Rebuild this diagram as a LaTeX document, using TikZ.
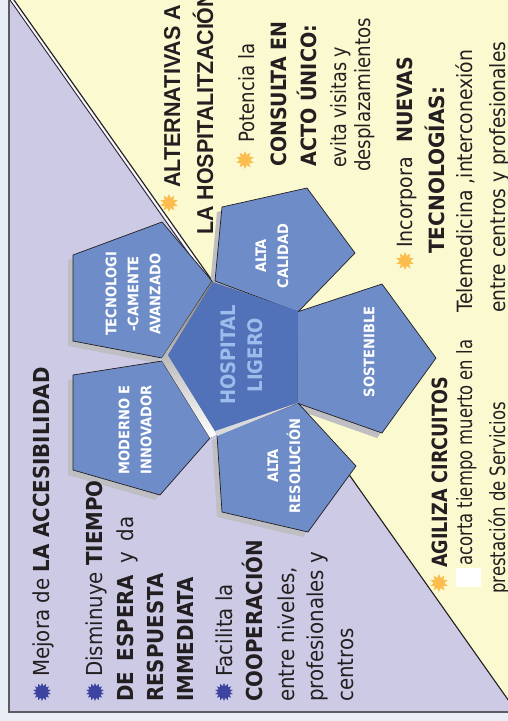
\documentclass[tikz,border=0pt]{standalone}
\usepackage{fontspec}
\usepackage{graphicx}
\setmainfont{DejaVu Sans Condensed}[BoldFont={DejaVu Sans Condensed Bold}]
\newfontfamily\headfont{Liberation Sans}
\usetikzlibrary{shapes.geometric}

% set a line of text to a given length along its baseline
\newcommand\fitline[2]{\resizebox{#1}{\height}{#2}}

\definecolor{bgout}{HTML}{E8EDF6}
\definecolor{lav}{HTML}{CDCAE6}
\definecolor{cream}{HTML}{FBF9CF}
\definecolor{petalblue}{HTML}{6E8DC8}
\definecolor{hubblue}{HTML}{5171B9}
\definecolor{hubtext}{HTML}{9CBDEB}
\definecolor{shade}{HTML}{BEBEC3}
\definecolor{shadelight}{HTML}{DADADD}
\definecolor{framegray}{HTML}{5B5B60}
\definecolor{navystar}{HTML}{3D44A0}
\definecolor{sunstar}{HTML}{FCBD4E}
\definecolor{ink}{HTML}{231F20}

\tikzset{
  petal/.style={fill=petalblue, draw=ink, line width=0.7pt, line join=miter},
  petalshadow/.style={fill=shade},
  petaltext/.style={text=white, font=\fontsize{14.5}{22}\selectfont\bfseries,
    align=center, rotate=90, inner sep=0pt},
  hubtxt/.style={text=hubtext, font=\fontsize{20}{27}\selectfont\bfseries,
    align=center, rotate=90, inner sep=0pt},
  lline/.style={rotate=90, anchor=base west, inner sep=0pt, text=ink,
    font=\fontsize{22}{26}\selectfont},
  rline/.style={rotate=90, anchor=base west, inner sep=0pt, text=ink,
    font=\fontsize{21}{26}\selectfont},
  headline/.style={rotate=90, anchor=base west, inner sep=0pt, text=ink,
    font=\fontsize{23}{26}\headfont\bfseries},
  navybullet/.style={star, star points=14, star point ratio=1.5, fill=navystar,
    minimum size=18pt, inner sep=0pt},
  sunbullet/.style={star, star points=10, star point ratio=1.7, fill=sunstar,
    minimum size=18pt, inner sep=0pt},
}

\begin{document}
\begin{tikzpicture}[x=1pt,y=-1pt]
\useasboundingbox (0,0) rectangle (508,721);
\clip (0,0) rectangle (508,721);

% page background and the two halves of the panel
\fill[bgout] (0,0) rectangle (508,721);
\fill[lav] (9,-5) rectangle (515,712);
\coordinate (d1) at (10.5,-5);
\coordinate (d2) at (515,709.6);
\fill[cream] (d1) -- (d2) -- (515,-5) -- cycle;

% dividing diagonal (doubled in its upper part)
\draw[ink, line width=1.1pt] (d1) -- (d2);
\draw[white, line width=1.4pt] (8.9,-3.9) -- (211,282);
\draw[ink, line width=0.8pt] (7.8,-3.1) -- (210,284);

% panel frame
\draw[framegray, line width=1.2pt] (9,-5) -- (9,712) -- (515,712);

% drop shadows of the outer petals
\begin{scope}[shift={(-5,5)}]
  \fill[petalshadow] (73,255) -- (162,222) -- (212,281) -- (162,358) -- (73,341) -- cycle;
  \fill[petalshadow] (73,375) -- (162,361) -- (210,438) -- (160,495) -- (73,470) -- cycle;
  \fill[petalshadow] (217,435) -- (298,403) -- (356,466) -- (308,532) -- (222,512) -- cycle;
  \fill[petalshadow] (297,312) -- (382,284) -- (436,358) -- (382,433) -- (297,403) -- cycle;
  \fill[petalshadow] (222,207) -- (307,188) -- (355,253) -- (298,312) -- (215,281) -- cycle;
\end{scope}

% outer petals
\draw[petal] (73,255) -- (162,222) -- (212,281) -- (162,358) -- (73,341) -- cycle;
\draw[petal] (73,375) -- (162,361) -- (210,438) -- (160,495) -- (73,470) -- cycle;
\draw[petal] (217,435) -- (298,403) -- (356,466) -- (308,532) -- (222,512) -- cycle;
\draw[petal] (297,312) -- (382,284) -- (436,358) -- (382,433) -- (297,403) -- cycle;
\draw[petal] (222,207) -- (307,188) -- (355,253) -- (298,312) -- (215,281) -- cycle;

% bevel between the hub and the petals
\fill[shade] (212,281) -- (162,358) -- (162,361) -- (210,438) -- (217,435)
  -- (215,431) -- (168,355) -- (213,282) -- cycle;
\fill[shadelight] (215,430) -- (217,436) -- (298,403) -- (297,402) -- cycle;

% central hub
\fill[hubblue] (213,282) -- (298,311) -- (297,403) -- (215,431) -- (168,355) -- cycle;

% petal labels
\node[petaltext] (tecno) at (133,294) {TECNOLOGI\\-CAMENTE\\AVANZADO};
\node[petaltext] (moderno) at (135,430) {MODERNO E\\INNOVADOR};
\node[petaltext] (resol) at (284,466) {ALTA\\RESOLUCIÓN};
\node[petaltext] (sost) at (369,352) {SOSTENIBLE};
\node[petaltext] (calidad) at (272,256) {ALTA\\CALIDAD};
\node[hubtxt] (hub) at (242,355) {HOSPITAL\\LIGERO};

% left list
\node[navybullet] (b1) at (42,692) {};
\node[lline] (l1) at (49,677) {Mejora de \textbf{LA ACCESIBILIDAD}};
\node[navybullet] (b2) at (95,692) {};
\node[lline] (l2) at (102,677) {Disminuye \textbf{TIEMPO}};
\node[lline] (l3) at (133,702) {\makebox[185pt][s]{\textbf{DE} \textbf{ESPERA} y da}};
\node[lline] (l4) at (163,702) {\textbf{RESPUESTA}};
\node[lline] (l5) at (193,702) {\textbf{IMMEDIATA}};
\node[navybullet] (b3) at (224,692) {};
\node[lline] (l6) at (232,677) {Facilita la};
\node[lline] (l7) at (262,702) {\textbf{COOPERACIÓN}};
\node[lline] (l8) at (294,702) {entre niveles,};
\node[lline] (l9) at (323,702) {profesionales y};
\node[lline] (l10) at (353,702) {centros};

% right list
\node[sunbullet] (r0) at (169,203) {};
\node[headline] (h1) at (180,188) {\fitline{183pt}{ALTERNATIVAS A}};
\node[headline] (h2) at (213,235) {\fitline{243pt}{LA HOSPITALITZACIÓN}};
\node[sunbullet] (r1) at (245,160) {};
\node[rline] (t1) at (254,143) {\fitline{99pt}{Potencia la}};
\node[rline] (t2) at (286,167) {\fitline{145pt}{\textbf{CONSULTA EN}}};
\node[rline] (t3) at (316,167) {\fitline{142pt}{\textbf{ACTO ÚNICO:}}};
\node[rline] (t4) at (346,168) {\fitline{121pt}{evita visitas y}};
\node[rline] (t5) at (370,172) {\fitline{154pt}{desplazamientos}};
\node[sunbullet] (r2) at (405,261) {};
\node[rline] (t6) at (412,248) {\fitline{191pt}{Incorpora\hspace{8pt} \textbf{NUEVAS}}};
\node[rline] (t7) at (444,254) {\fitline{167pt}{\textbf{TECNOLOGÍAS:}}};
\node[rline] (t8) at (472,313) {\fitline{263pt}{Telemedicina ,interconexión}};
\node[rline] (t9) at (505,313) {\fitline{271pt}{entre centros y profesionales}};
\node[sunbullet] (r3) at (439,583) {};
\node[rline] (t10) at (447,568) {\fitline{191pt}{\textbf{AGILIZA CIRCUITOS}}};
\node[fill=white, minimum width=25pt, minimum height=19pt, inner sep=0pt] (blank) at (468.5,577.5) {};
\node[rline] (t11) at (472,566) {\fitline{226pt}{acorta tiempo muerto en la}};
\node[rline] (t12) at (505,594) {\fitline{192pt}{prestación de Servicios}};
\end{tikzpicture}
\end{document}
